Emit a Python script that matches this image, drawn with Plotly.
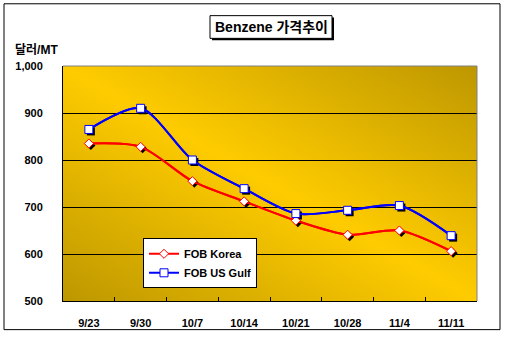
import struct
import zlib
import base64
import plotly.graph_objects as go

# Weekly benzene prices (USD per metric ton)
dates = ["9/23", "9/30", "10/7", "10/14", "10/21", "10/28", "11/4", "11/11"]
fob_korea = [835, 828, 755, 712, 671, 641, 650, 606]
fob_us_gulf = [865, 910, 800, 739, 686, 693, 703, 639]
series_names = ["FOB Korea", "FOB US Gulf"]

W, H = 505, 341
L, R, T, B = 63, 477, 66, 304   # plot area in pixels
PW, PH = R - L, B - T

RED, BLUE = "#FF0000", "#0000FF"


def px_x(p):
    return (p - L) / PW


def px_y(p):
    return (B - p) / PH


def box_path(x0, y0, x1, y1):
    return (f"M {px_x(x0)},{px_y(y0)} L {px_x(x1)},{px_y(y0)} "
            f"L {px_x(x1)},{px_y(y1)} L {px_x(x0)},{px_y(y1)} Z")


def gradient_png(w, h, bright, dark):
    """Diagonal two-tone gradient: bright along the TL-BR diagonal, dark at the other corners."""
    rows = []
    for j in range(h):
        v = j / (h - 1)
        row = bytearray([0])
        for i in range(w):
            u = i / (w - 1)
            t = abs(u - v)
            row += bytes(round(bright[k] + (dark[k] - bright[k]) * t) for k in range(3))
        rows.append(bytes(row))
    raw = b"".join(rows)

    def chunk(tag, data):
        return (struct.pack(">I", len(data)) + tag + data +
                struct.pack(">I", zlib.crc32(tag + data) & 0xFFFFFFFF))

    png = (b"\x89PNG\r\n\x1a\n" +
           chunk(b"IHDR", struct.pack(">IIBBBBB", w, h, 8, 2, 0, 0, 0)) +
           chunk(b"IDAT", zlib.compress(raw, 9)) +
           chunk(b"IEND", b""))
    return "data:image/png;base64," + base64.b64encode(png).decode()


bg = gradient_png(120, 70, (255, 204, 0), (190, 152, 0))

idx = list(range(len(dates)))
xr = [-0.5, len(dates) - 0.5]
yr = [500, 1000]

# pixel offset of the marker drop-shadows
sh = 2
dx = sh * (xr[1] - xr[0]) / PW
dy = sh * (yr[1] - yr[0]) / PH

font = dict(family="Liberation Sans, Arial, sans-serif", size=11, color="black", weight="bold")
kfont = dict(family="Liberation Sans, Noto Sans CJK KR, sans-serif", color="black", weight="bold")

styles = [
    (fob_korea, RED, "diamond", 7),
    (fob_us_gulf, BLUE, "square", 8),
]

fig = go.Figure()

# smoothed price lines on the main axes
for (vals, col, sym, sz), name in zip(styles, series_names):
    fig.add_trace(go.Scatter(
        x=idx, y=vals, name=name, mode="lines",
        line=dict(color=col, width=2, shape="spline", smoothing=0.8),
        showlegend=False))

# marker shadows (axes shifted 2px right/down)
for vals, col, sym, sz in styles:
    fig.add_trace(go.Scatter(
        x=idx, y=vals, mode="markers", xaxis="x2", yaxis="y2",
        marker=dict(symbol=sym, size=sz, color="black", line=dict(width=0)),
        showlegend=False, hoverinfo="skip"))

# lines with white markers on top; these carry the legend entries
for (vals, col, sym, sz), name in zip(styles, series_names):
    fig.add_trace(go.Scatter(
        x=idx, y=vals, name=name, mode="lines+markers", xaxis="x3", yaxis="y3",
        line=dict(color=col, width=2, shape="spline", smoothing=0.8),
        marker=dict(symbol=sym, size=sz, color="white", line=dict(color=col, width=1))))

fig.update_layout(
    width=W, height=H,
    margin=dict(l=L, r=W - R, t=T, b=H - B, pad=0),
    paper_bgcolor="white",
    plot_bgcolor="rgba(0,0,0,0)",
    font=font,
    showlegend=True,
    legend=dict(x=px_x(143), y=px_y(240.5), xanchor="left", yanchor="top",
                bgcolor="white", bordercolor="black", borderwidth=1,
                font=dict(family="Liberation Sans, Arial, sans-serif", size=11,
                          color="black", weight="bold"),
                itemwidth=30, tracegroupgap=0, traceorder="normal"),
    xaxis=dict(range=xr, tickvals=idx, ticktext=dates, showgrid=False,
               zeroline=False, showline=True, linecolor="black", linewidth=1,
               ticks="", ticklabelstandoff=12, tickfont=font,
               minor=dict(ticks="inside", ticklen=4, tickcolor="black",
                          tickvals=[i + 0.5 for i in idx[:-1]], showgrid=False)),
    yaxis=dict(range=yr, dtick=100, tick0=500, tickformat=",d", showgrid=True,
               gridcolor="black", gridwidth=1, zeroline=False, showline=True,
               linecolor="black", linewidth=1, ticks="", ticklabelstandoff=17,
               tickfont=font),
    xaxis2=dict(range=[xr[0] - dx, xr[1] - dx], overlaying="x", visible=False),
    yaxis2=dict(range=[yr[0] + dy, yr[1] + dy], overlaying="y", visible=False),
    xaxis3=dict(range=xr, overlaying="x", visible=False),
    yaxis3=dict(range=yr, overlaying="y", visible=False),
    images=[dict(source=bg, xref="paper", yref="paper", x=0, y=1, sizex=1, sizey=1,
                 sizing="stretch", xanchor="left", yanchor="top", layer="below")],
)

shapes = [
    # outer frame
    dict(type="path", xref="paper", yref="paper", path=box_path(4, 3, 500, 333),
         line=dict(color="black", width=1)),
    # top and right plot edges
    dict(type="line", xref="paper", yref="paper", x0=0, x1=1, y0=1, y1=1,
         line=dict(color="#808080", width=1), layer="above"),
    dict(type="line", xref="paper", yref="paper", x0=1, x1=1, y0=0, y1=1,
         line=dict(color="#808080", width=1), layer="above"),
    # title box with shadow
    dict(type="path", xref="paper", yref="paper", path=box_path(212, 17, 334, 40),
         fillcolor="black", line=dict(width=0)),
    dict(type="path", xref="paper", yref="paper", path=box_path(210, 15, 332, 38),
         fillcolor="white", line=dict(color="black", width=1)),
]
fig.update_layout(shapes=shapes)

fig.add_annotation(text="Benzene 가격추이", xref="paper", yref="paper",
                   x=px_x(271), y=px_y(27), showarrow=False, xanchor="center",
                   yanchor="middle", font=dict(kfont, size=14))
fig.add_annotation(text="달러/MT", xref="paper", yref="paper",
                   x=px_x(13), y=px_y(50), showarrow=False, xanchor="left",
                   yanchor="middle", font=dict(kfont, size=12))

fig.write_html("out.html")
